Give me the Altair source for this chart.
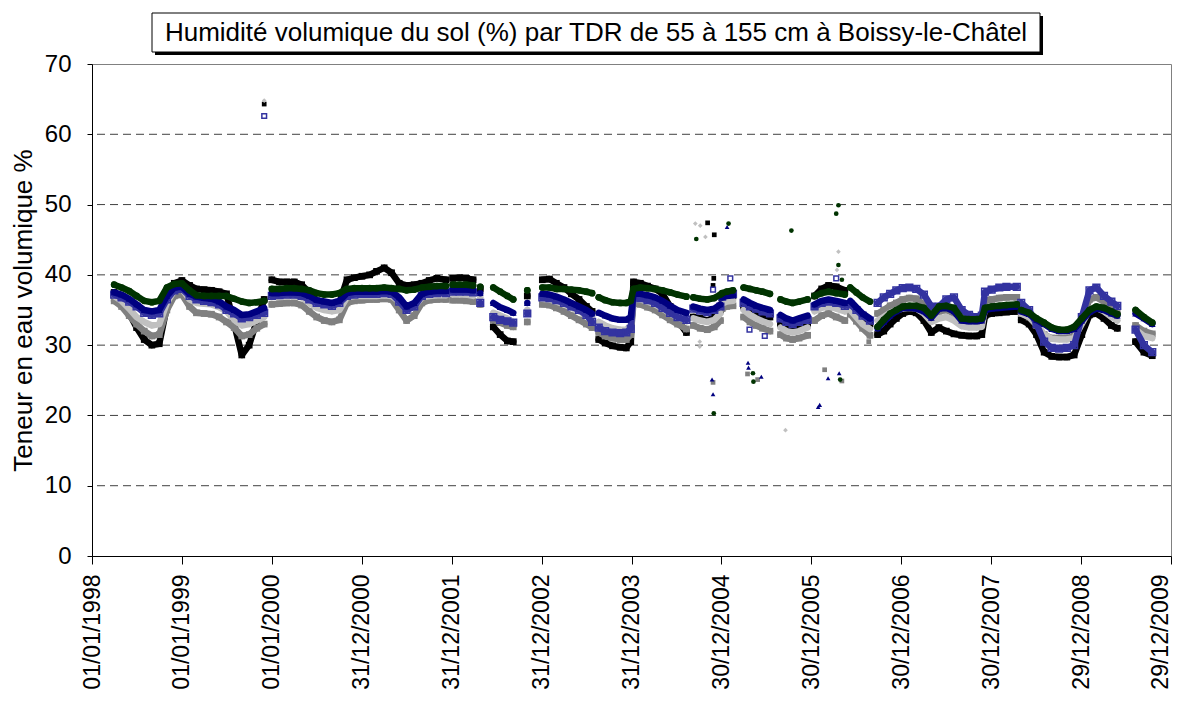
import altair as alt
import pandas as pd

TITLE = "Humidité volumique du sol (%) par TDR de 55 à 155 cm à Boissy-le-Châtel"
Y_TITLE = "Teneur en eau volumique %"

SERIES = ["55 cm", "75 cm", "95 cm", "115 cm", "135 cm", "155 cm"]
COLORS = ["#000000", "#808080", "#C0C0C0", "#3333A0", "#000080", "#003300"]
SHAPES = ["square", "square", "diamond", "square", "triangle-up", "circle"]
FILLED = [True, True, True, False, True, True]

TICK_DATES = ["1998-01-01", "1999-01-01", "2000-01-01", "2000-12-31", "2001-12-31",
              "2002-12-31", "2003-12-31", "2004-12-30", "2005-12-30", "2006-12-30",
              "2007-12-30", "2008-12-29", "2009-12-29"]
Y_TICKS = [0, 10, 20, 30, 40, 50, 60, 70]
GRID_VALUES = [10, 20, 30, 40, 50, 60]

# measurement periods (one list per continuous run of records)
SEG_DATES = [
    ["1998-04-01", "1998-05-01", "1998-06-01", "1998-07-01", "1998-08-01", "1998-09-01", "1998-10-01",
     "1998-11-01", "1998-12-01", "1999-01-01", "1999-02-01", "1999-03-01", "1999-04-01", "1999-05-01",
     "1999-06-01", "1999-07-01", "1999-08-01", "1999-09-01", "1999-10-01", "1999-11-01", "1999-12-01"],
    ["2000-01-01", "2000-02-01", "2000-03-01", "2000-04-01", "2000-05-01", "2000-06-01", "2000-07-01",
     "2000-08-01", "2000-09-01", "2000-10-01", "2000-11-01", "2000-12-01", "2001-01-01", "2001-02-01",
     "2001-03-01", "2001-04-01", "2001-05-01", "2001-06-01", "2001-07-01", "2001-08-01", "2001-09-01",
     "2001-10-01", "2001-11-01", "2001-12-08"],
    ["2002-01-04", "2002-02-01", "2002-03-01", "2002-03-28"],
    ["2002-04-26"],
    ["2002-06-18", "2002-07-16", "2002-08-14", "2002-09-07"],
    ["2002-11-03"],
    ["2003-01-03", "2003-02-01", "2003-03-01", "2003-04-01", "2003-05-01", "2003-06-01", "2003-07-01", "2003-07-24"],
    ["2003-08-20", "2003-09-15", "2003-10-15", "2003-11-15", "2003-12-10", "2003-12-28", "2004-01-08",
     "2004-02-05", "2004-03-05", "2004-04-05", "2004-05-05", "2004-06-05", "2004-07-05", "2004-08-10"],
    ["2004-09-07", "2004-10-05", "2004-11-03", "2004-12-01", "2004-12-26"],
    ["2005-01-02", "2005-01-20", "2005-02-15"],
    ["2005-03-30", "2005-04-25", "2005-05-20", "2005-06-15", "2005-07-15"],
    ["2005-08-27", "2005-09-20", "2005-10-15", "2005-11-10", "2005-12-15"],
    ["2006-01-12", "2006-02-10", "2006-03-10", "2006-04-10", "2006-05-15"],
    ["2006-06-06", "2006-07-01", "2006-07-26", "2006-08-25"],
    ["2006-09-25", "2006-10-20", "2006-11-15", "2006-12-10", "2007-01-05", "2007-02-01", "2007-03-01",
     "2007-04-01", "2007-05-01", "2007-06-01", "2007-07-01", "2007-08-01", "2007-09-01", "2007-10-01",
     "2007-11-01", "2007-11-22", "2007-12-05", "2008-01-01", "2008-02-01", "2008-03-01", "2008-04-12"],
    ["2008-04-30", "2008-06-01", "2008-07-01", "2008-08-01", "2008-09-01", "2008-10-01", "2008-11-01",
     "2008-12-01", "2009-01-01", "2009-02-01", "2009-03-01", "2009-04-01", "2009-05-01", "2009-05-25"],
    ["2009-08-07", "2009-09-10", "2009-10-14"],
]

BLACK = [
    [37.5, 36.5, 34.5, 32.5, 30.8, 30.0, 30.2, 35.5, 38.8, 39.2, 38.5, 38.0, 37.9, 37.8, 37.6, 37.3, 33.0, 28.6, 30.0, 33.5, 36.5],
    [39.3, 39.0, 39.0, 39.0, 38.6, 37.5, 36.3, 35.5, 35.2, 36.0, 39.3, 39.6, 39.8, 40.0, 40.5, 41.0, 40.3, 38.8, 38.5, 38.6, 38.8, 39.2, 39.5, 39.3],
    [39.5, 39.6, 39.5, 39.3],
    [38.0],
    [32.6, 31.5, 30.6, 30.5],
    [37.0],
    [39.3, 39.4, 38.8, 38.2, 37.3, 36.5, 35.5, 34.8],
    [30.8, 30.3, 29.9, 29.7, 29.6, 30.5, 39.0, 38.8, 38.4, 38.0, 37.3, 35.5, 33.5, 31.8],
    [34.0, 33.8, 33.5, 34.0, 35.0],
    [36.5, 36.8, 37.0],
    [35.5, 35.0, 34.6, 34.2, 34.0],
    [33.0, 32.5, 32.2, 32.5, 33.0],
    [37.0, 38.0, 38.5, 38.3, 37.8],
    [35.5, 34.6, 33.6, 33.0],
    [31.5, 32.0, 33.0, 33.8, 34.5, 34.8, 34.6, 33.5, 31.8, 32.5, 32.0, 31.6, 31.4, 31.3, 31.3, 31.5, 34.2, 34.5, 34.6, 34.7, 34.8],
    [33.6, 33.0, 31.5, 29.0, 28.4, 28.3, 28.3, 28.6, 31.5, 34.3, 34.5, 33.8, 32.8, 32.4],
    [30.5, 29.0, 28.5],
]
GRAY = [
    [36.3, 35.5, 34.2, 33.0, 32.0, 31.3, 31.5, 35.0, 37.0, 37.2, 35.5, 34.6, 34.5, 34.4, 34.0, 33.3, 32.5, 31.3, 31.5, 32.4, 33.0],
    [35.8, 35.9, 36.0, 36.0, 35.7, 34.8, 34.0, 33.5, 33.3, 33.6, 36.0, 36.3, 36.4, 36.5, 36.5, 36.6, 36.5, 35.0, 33.5, 34.2, 36.0, 36.4, 36.5, 36.5],
    [36.4, 36.4, 36.3, 36.2],
    [35.8],
    [33.6, 33.2, 32.8, 32.6],
    [33.3],
    [35.8, 35.7, 35.3, 34.8, 34.2, 33.6, 33.0, 32.5],
    [31.8, 31.3, 31.0, 30.8, 30.8, 31.5, 36.0, 35.8, 35.4, 35.0, 34.3, 33.6, 33.0, 32.3],
    [32.8, 32.4, 32.2, 32.6, 33.5],
    [35.2, 35.5, 35.6],
    [34.0, 33.3, 32.8, 32.4, 32.0],
    [31.5, 31.0, 30.8, 31.0, 31.4],
    [33.5, 34.2, 34.5, 34.0, 33.5],
    [34.4, 33.4, 32.4, 31.4],
    [34.5, 35.0, 35.6, 36.0, 36.5, 36.7, 36.6, 35.8, 34.2, 34.8, 35.0, 34.5, 33.6, 33.4, 33.4, 33.5, 36.3, 36.5, 36.7, 36.8, 36.8],
    [34.5, 34.0, 32.8, 31.5, 31.0, 31.0, 31.0, 31.3, 33.5, 36.5, 36.8, 36.2, 35.0, 34.5],
    [32.8, 32.0, 31.6],
]
LIGHT = [
    [37.0, 36.3, 35.2, 34.0, 33.3, 32.8, 33.0, 36.0, 37.8, 38.0, 36.5, 36.0, 35.9, 35.8, 35.4, 34.8, 33.6, 32.8, 33.0, 33.5, 34.0],
    [36.8, 36.9, 37.0, 37.0, 36.8, 36.0, 35.3, 35.0, 34.8, 35.0, 36.8, 37.0, 37.0, 37.0, 37.0, 37.1, 37.0, 36.2, 35.0, 35.5, 36.8, 37.0, 37.1, 37.1],
    [37.2, 37.2, 37.2, 37.0],
    [36.8],
    [34.6, 34.2, 33.8, 33.3],
    [35.0],
    [36.6, 36.5, 36.2, 35.8, 35.3, 34.8, 34.3, 33.8],
    [33.3, 32.8, 32.4, 32.2, 32.2, 32.8, 36.6, 36.5, 36.2, 35.8, 35.2, 34.5, 34.0, 33.4],
    [33.8, 33.5, 33.3, 33.6, 34.5],
    [35.9, 36.2, 36.3],
    [35.0, 34.3, 33.8, 33.4, 33.0],
    [32.5, 32.0, 31.8, 32.0, 32.5],
    [34.8, 35.3, 35.5, 35.2, 34.8],
    [35.0, 34.0, 33.0, 32.3],
    [33.5, 34.0, 34.6, 35.0, 35.2, 35.3, 35.2, 34.5, 33.3, 33.8, 34.0, 33.5, 32.7, 32.5, 32.5, 32.6, 35.3, 35.5, 35.6, 35.7, 35.7],
    [34.5, 34.0, 33.0, 31.5, 30.9, 30.8, 30.8, 31.0, 33.0, 35.0, 35.3, 34.8, 34.0, 33.5],
    [32.2, 31.3, 31.0],
]
PERI = [
    [37.2, 36.8, 36.2, 35.5, 34.6, 34.3, 34.5, 36.5, 37.8, 38.0, 37.0, 36.5, 36.3, 36.1, 35.8, 35.0, 34.5, 33.8, 34.0, 34.3, 34.6],
    [37.0, 37.1, 37.2, 37.2, 37.0, 36.5, 36.0, 35.8, 35.6, 36.0, 37.0, 37.2, 37.3, 37.3, 37.3, 37.4, 37.3, 36.2, 35.0, 35.5, 37.0, 37.3, 37.4, 37.4],
    [37.6, 37.6, 37.6, 37.5],
    [36.0],
    [34.0, 33.6, 33.4, 33.2],
    [34.5],
    [36.8, 36.7, 36.4, 36.0, 35.5, 35.0, 34.3, 33.3],
    [32.5, 32.0, 31.8, 31.7, 31.8, 32.3, 36.8, 36.7, 36.4, 36.0, 35.3, 34.6, 34.0, 33.6],
    [35.2, 34.9, 34.7, 35.0, 35.5],
    [36.9, 37.2, 37.3],
    [36.0, 35.5, 35.2, 34.8, 34.5],
    [33.8, 33.3, 33.0, 33.3, 33.6],
    [35.5, 36.0, 36.2, 36.0, 35.6],
    [35.8, 35.0, 34.2, 33.5],
    [36.0, 36.8, 37.3, 37.8, 38.1, 38.2, 38.0, 37.2, 35.5, 35.5, 36.5, 36.8, 35.0, 34.3, 34.0, 34.2, 37.6, 37.9, 38.2, 38.3, 38.3],
    [36.0, 35.0, 33.0, 30.5, 29.6, 29.5, 29.6, 30.0, 34.0, 37.8, 38.2, 37.0, 36.2, 35.6],
    [32.2, 30.0, 29.0],
]
NAVY = [
    [37.5, 37.2, 36.6, 35.8, 35.0, 34.8, 35.0, 37.0, 38.2, 38.3, 37.3, 36.9, 36.7, 36.6, 36.2, 35.5, 35.0, 34.3, 34.4, 34.8, 35.3],
    [37.4, 37.4, 37.5, 37.5, 37.4, 37.0, 36.4, 36.2, 36.0, 36.3, 37.4, 37.6, 37.6, 37.6, 37.6, 37.7, 37.6, 36.8, 35.5, 36.0, 37.3, 37.6, 37.7, 37.7],
    [37.9, 37.9, 37.9, 37.8],
    [37.4],
    [36.0, 35.4, 35.0, 34.6],
    [36.0],
    [37.3, 37.2, 36.9, 36.5, 36.0, 35.5, 35.0, 34.5],
    [34.6, 34.2, 33.8, 33.6, 33.6, 34.0, 37.3, 37.3, 37.1, 36.8, 36.3, 35.6, 35.0, 34.6],
    [35.5, 35.2, 35.0, 35.2, 35.8],
    [36.8, 37.0, 37.1],
    [36.5, 36.0, 35.6, 35.3, 35.0],
    [34.3, 33.8, 33.5, 33.8, 34.2],
    [35.8, 36.3, 36.5, 36.3, 36.0],
    [36.3, 35.4, 34.5, 33.8],
    [32.4, 33.3, 34.2, 34.8, 35.3, 35.3, 35.2, 34.8, 33.9, 35.2, 35.3, 34.8, 33.5, 33.4, 33.4, 33.5, 35.0, 35.2, 35.3, 35.4, 35.5],
    [34.8, 34.4, 33.6, 33.0, 32.3, 32.0, 32.0, 32.3, 33.5, 34.7, 35.2, 35.0, 34.5, 34.2],
    [34.5, 33.8, 33.0],
]
GREEN = [
    [38.6, 38.2, 37.7, 37.0, 36.3, 36.1, 36.3, 38.2, 38.7, 38.8, 37.8, 37.1, 37.0, 37.0, 37.0, 37.0, 36.6, 36.2, 36.0, 36.1, 36.3],
    [38.0, 38.0, 38.1, 38.1, 38.0, 37.8, 37.4, 37.2, 37.2, 37.4, 38.0, 38.1, 38.1, 38.1, 38.1, 38.2, 38.1, 38.0, 37.8, 37.9, 38.2, 38.3, 38.4, 38.4],
    [38.6, 38.6, 38.6, 38.5],
    [38.3],
    [38.2, 37.6, 37.0, 36.5],
    [37.8],
    [38.2, 38.2, 38.0, 38.0, 37.9, 37.8, 37.6, 37.4],
    [36.8, 36.4, 36.1, 36.0, 36.0, 36.3, 38.0, 38.2, 38.1, 38.0, 37.8, 37.5, 37.2, 36.9],
    [36.8, 36.6, 36.5, 36.7, 37.2],
    [37.4, 37.6, 37.8],
    [38.2, 38.0, 37.8, 37.6, 37.3],
    [36.5, 36.2, 36.0, 36.2, 36.5],
    [37.0, 37.4, 37.6, 37.4, 37.2],
    [38.2, 37.5, 36.8, 36.2],
    [32.6, 33.6, 34.5, 35.0, 35.5, 35.6, 35.6, 35.3, 34.2, 35.5, 35.6, 35.3, 33.8, 33.7, 33.7, 33.8, 35.3, 35.5, 35.6, 35.7, 35.8],
    [35.0, 34.6, 33.8, 33.2, 32.5, 32.2, 32.2, 32.6, 33.8, 35.0, 35.5, 35.3, 34.8, 34.4],
    [35.0, 34.0, 33.2],
]

# isolated readings far from the bands
OUT_DATES = ["1999-12-01", "1999-12-01", "1999-12-01",
             "2004-09-15", "2004-10-05", "2004-11-04", "2004-12-01", "2004-10-26", "2004-09-19",
             "2005-01-22", "2005-01-28", "2005-10-10",
             "2006-04-19", "2006-04-10", "2006-04-19", "2006-04-19", "2006-04-13", "2006-04-10", "2006-05-03",
             "2004-10-03", "2004-10-03", "2004-11-22", "2004-11-26", "2004-11-26", "2004-11-29",
             "2005-04-17", "2005-04-19", "2005-04-15", "2005-05-07", "2005-05-09", "2005-05-26", "2005-06-10",
             "2005-09-16",
             "2006-02-22", "2006-03-08", "2006-04-22", "2006-04-26", "2006-05-03", "2006-01-27", "2006-02-02",
             "2005-04-23", "2005-06-24", "2006-08-20",
             "2004-11-26", "2005-02-04", "2004-11-29", "2004-11-26"]
OUT_VALUES = [64.3, 64.8, 62.6,
              47.3, 47.0, 47.4, 45.7, 45.4, 45.1,
              46.8, 47.3, 46.3,
              49.9, 48.7, 43.3, 41.4, 40.7, 39.5, 39.3,
              30.5, 29.8, 25.1, 24.7, 23.0, 20.3,
              27.5, 26.8, 25.9, 26.0, 24.8, 25.1, 25.5,
              17.9,
              26.5, 25.3, 26.0, 25.1, 24.9, 21.2, 21.5,
              32.2, 31.3, 30.5,
              37.9, 39.5, 39.5, 38.5]
OUT_SERIES = ["55 cm", "95 cm", "115 cm",
              "95 cm", "95 cm", "55 cm", "55 cm", "95 cm", "155 cm",
              "135 cm", "155 cm", "155 cm",
              "155 cm", "155 cm", "95 cm", "155 cm", "95 cm", "115 cm", "155 cm",
              "95 cm", "95 cm", "135 cm", "75 cm", "135 cm", "155 cm",
              "135 cm", "135 cm", "75 cm", "155 cm", "155 cm", "75 cm", "135 cm",
              "95 cm",
              "75 cm", "135 cm", "135 cm", "155 cm", "75 cm", "135 cm", "135 cm",
              "115 cm", "115 cm", "75 cm",
              "115 cm", "115 cm", "55 cm", "55 cm"]

VALUES = [BLACK, GRAY, LIGHT, PERI, NAVY, GREEN]

rows = []
for s_name, s_vals in zip(SERIES, VALUES):
    assert len(s_vals) == len(SEG_DATES)
    for seg_i, (dates, vals) in enumerate(zip(SEG_DATES, s_vals)):
        assert len(dates) == len(vals), (s_name, seg_i)
        for d, v in zip(dates, vals):
            rows.append({"date": d, "value": v, "series": s_name, "seg": seg_i})
df = pd.DataFrame(rows)
out_df = pd.DataFrame({"date": OUT_DATES, "value": OUT_VALUES, "series": OUT_SERIES})
grid_df = pd.DataFrame({"value": GRID_VALUES})

FONT = "Liberation Sans"


def dt(s):
    y, m, d = (int(p) for p in s.split("-"))
    return alt.DateTime(year=y, month=m, date=d, utc=True)


XSCALE = alt.Scale(type="utc", domain=[dt(TICK_DATES[0]), dt(TICK_DATES[-1])])
YSCALE = alt.Scale(domain=[0, 70], nice=False)
# the last label sits on the right border; nudge it just enough to stay inside the page
LAST_LABEL_OFFSET = {"condition": {"test": "datum.value > 1250000000000", "value": -11}, "value": 0}
XAXIS = alt.Axis(values=[dt(t) for t in TICK_DATES], format="%d/%m/%Y", labelAngle=270,
                 tickSize=8, labelPadding=10, labelFontSize=23, labelFont=FONT, labelColor="black",
                 domainColor="black", tickColor="black", grid=False, title=None, labelOverlap=False,
                 labelOffset=LAST_LABEL_OFFSET)
YAXIS = alt.Axis(values=Y_TICKS, tickSize=5, labelPadding=16, labelFontSize=24, labelFont=FONT,
                 labelColor="black", domainColor="black", tickColor="black", grid=False,
                 title=Y_TITLE, titleFontSize=26, titleFont=FONT, titleFontWeight="normal",
                 titleColor="black", titlePadding=8)

X = alt.X("date:T", scale=XSCALE, axis=XAXIS)
Y = alt.Y("value:Q", scale=YSCALE, axis=YAXIS)

layers = []
layers.append(alt.Chart(grid_df).mark_rule(color="#404040", strokeDash=[8, 5], strokeWidth=1).encode(y=Y))

for s_name, color, shape, filled in zip(SERIES, COLORS, SHAPES, FILLED):
    sub = df[df["series"] == s_name]
    layers.append(alt.Chart(sub).mark_line(color=color, strokeWidth=6.5, strokeCap="round",
                                           strokeJoin="round").encode(x=X, y=Y, detail="seg:N"))
    layers.append(alt.Chart(sub).mark_point(color=color, shape=shape, filled=filled, size=45,
                                            opacity=1, strokeWidth=1.5).encode(x=X, y=Y))
    osub = out_df[out_df["series"] == s_name]
    if len(osub):
        layers.append(alt.Chart(osub).mark_point(color=color, shape=shape, filled=filled, size=22,
                                                 opacity=1, strokeWidth=1.5).encode(x=X, y=Y))

dummy = pd.DataFrame({"k": [0]})
layers.append(alt.Chart(dummy).mark_rect(color="black").encode(
    x=alt.value(63), x2=alt.value(951), y=alt.value(-48), y2=alt.value(-9)))
layers.append(alt.Chart(dummy).mark_rect(fill="white", stroke="black", strokeWidth=1).encode(
    x=alt.value(60), x2=alt.value(948), y=alt.value(-51), y2=alt.value(-12)))
layers.append(alt.Chart(dummy).mark_text(text=TITLE, font=FONT, fontSize=26, color="black",
                                         align="center", baseline="middle").encode(
    x=alt.value(504), y=alt.value(-31)))

chart = alt.layer(*layers).properties(
    width=1079, height=492,
    autosize=alt.AutoSizeParams(type="none"),
    padding={"left": 84, "top": 56, "right": 2, "bottom": 137},
    background="white",
).configure_view(stroke="#808080", strokeWidth=1)

chart.save("out.html", embed_options={"renderer": "svg", "actions": False})
